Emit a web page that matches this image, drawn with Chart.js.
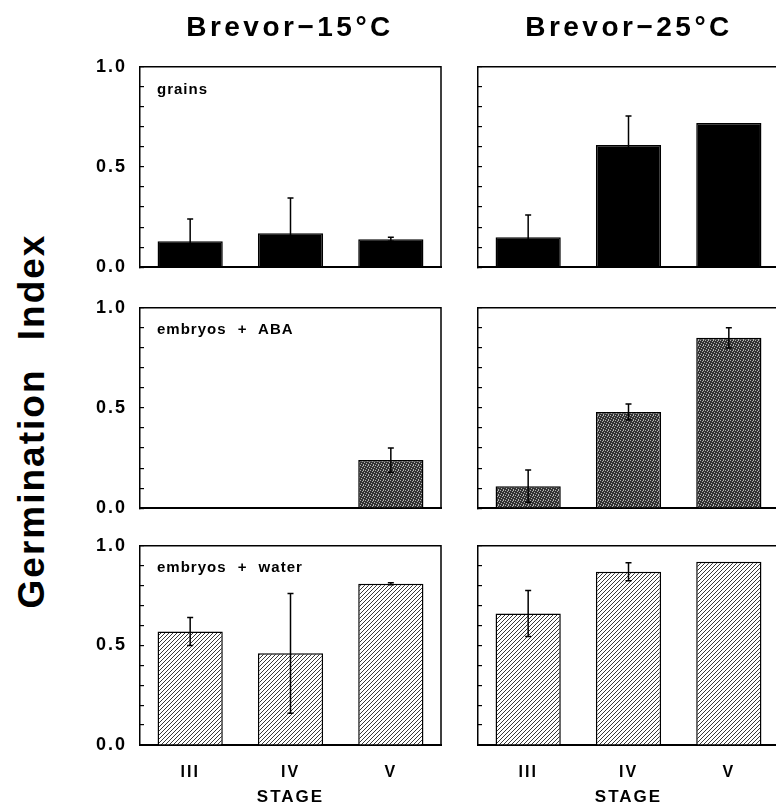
<!DOCTYPE html>
<html><head><meta charset="utf-8">
<script src="https://cdn.jsdelivr.net/npm/chart.js@4/dist/chart.umd.min.js"></script>
<style>
html,body{margin:0;padding:0;background:#fff;overflow:hidden;width:776px;height:810px;position:relative;}
canvas{position:absolute;display:block;}
.t{position:absolute;font-family:"Liberation Sans",Arial,sans-serif;font-weight:bold;color:#000;white-space:nowrap;line-height:1;}
</style></head><body>
<canvas id="c00" width="366" height="256" style="left:80px;top:39px"></canvas>
<canvas id="c01" width="320" height="256" style="left:470px;top:39px"></canvas>
<canvas id="c10" width="366" height="256" style="left:80px;top:280px"></canvas>
<canvas id="c11" width="320" height="256" style="left:470px;top:280px"></canvas>
<canvas id="c20" width="366" height="292" style="left:80px;top:518px"></canvas>
<canvas id="c21" width="320" height="292" style="left:470px;top:518px"></canvas>
<div class="t" id="title0" style="left:290px;top:13px;font-size:28px;letter-spacing:3.5px;transform:translateX(-50%);"></div>
<div class="t" id="title1" style="left:629px;top:13px;font-size:28px;letter-spacing:3.5px;transform:translateX(-50%);"></div>
<div class="t" id="ytitle" style="left:31px;top:421px;font-size:37px;letter-spacing:2px;word-spacing:16px;transform:translate(-50%,-50%) rotate(-90deg);"></div>
<div class="t" id="lab0" style="left:157px;top:81px;font-size:15px;letter-spacing:1px;word-spacing:6px;"></div>
<div class="t" id="lab1" style="left:157px;top:321px;font-size:15px;letter-spacing:1px;word-spacing:6px;"></div>
<div class="t" id="lab2" style="left:157px;top:559px;font-size:15px;letter-spacing:1px;word-spacing:6px;"></div>
<script>
// ---- data ----
const stages = ['III', 'IV', 'V'];
const columnTitles = ['Brevor\u221215\u00B0C', 'Brevor\u221225\u00B0C'];
const rowLabels = ['grains', 'embryos + ABA', 'embryos + water'];
const yAxisTitle = 'Germination Index';
const xAxisTitle = 'STAGE';
const yTickValues = [0, 0.5, 1.0];
const yTickLabels = ['0.0', '0.5', '1.0'];

const grains15 = [0.13, 0.17, 0.14];
const grains15Err = [0.11, 0.175, 0.01];
const grains25 = [0.15, 0.61, 0.72];
const grains25Err = [0.11, 0.145, 0];
const aba15 = [0, 0, 0.24];
const aba15Err = [0, 0, 0.06];
const aba25 = [0.11, 0.48, 0.85];
const aba25Err = [0.08, 0.04, 0.05];
const water15 = [0.57, 0.46, 0.81];
const water15Err = [0.07, 0.30, 0.005];
const water25 = [0.66, 0.87, 0.92];
const water25Err = [0.115, 0.045, 0];

document.getElementById('title0').textContent = columnTitles[0];
document.getElementById('title1').textContent = columnTitles[1];
document.getElementById('ytitle').textContent = yAxisTitle;
rowLabels.forEach((t, i) => document.getElementById('lab' + i).textContent = t);

// ---- fills ----
function stipple() {
  const c = document.createElement('canvas'); c.width = 5; c.height = 5;
  const g = c.getContext('2d');
  g.fillStyle = '#333'; g.fillRect(0, 0, 5, 5);
  g.fillStyle = '#b0b0b0';
  [[0,0],[2,1],[4,2],[1,3],[3,4],[3,0]].forEach(p => g.fillRect(p[0], p[1], 1, 1));
  return g.createPattern(c, 'repeat');
}
function hatch() {
  const c = document.createElement('canvas'); c.width = 4; c.height = 4;
  const g = c.getContext('2d');
  g.fillStyle = '#fff'; g.fillRect(0, 0, 4, 4);
  g.strokeStyle = '#222'; g.lineWidth = 0.9;
  g.beginPath();
  g.moveTo(-1, 5); g.lineTo(5, -1);
  g.moveTo(-1, 1); g.lineTo(1, -1);
  g.moveTo(3, 5); g.lineTo(5, 3);
  g.stroke();
  return g.createPattern(c, 'repeat');
}

const FONT = '"Liberation Sans", Arial, sans-serif';

const boxPlugin = {
  id: 'box',
  beforeDraw(chart) { chart.ctx.letterSpacing = '2px'; },
  afterDraw(chart) {
    const a = chart.chartArea, ctx = chart.ctx;
    ctx.save();
    ctx.strokeStyle = '#000'; ctx.lineWidth = 1.5;
    ctx.beginPath();
    ctx.moveTo(a.left, a.top); ctx.lineTo(a.right, a.top); ctx.lineTo(a.right, a.bottom);
    ctx.stroke();
    ctx.restore();
  }
};
const errPlugin = {
  id: 'err',
  afterDatasetsDraw(chart) {
    const ds = chart.data.datasets[0], meta = chart.getDatasetMeta(0), y = chart.scales.y, ctx = chart.ctx;
    ctx.save();
    ctx.strokeStyle = '#000'; ctx.lineWidth = 1.5;
    meta.data.forEach((bar, i) => {
      const v = ds.data[i], e = ds.errs[i];
      if (!e) return;
      const yt = y.getPixelForValue(v + e), yb = y.getPixelForValue(Math.max(0, v - e));
      ctx.beginPath();
      ctx.moveTo(bar.x, yt); ctx.lineTo(bar.x, yb);
      ctx.moveTo(bar.x - 3, yt); ctx.lineTo(bar.x + 3, yt);
      ctx.moveTo(bar.x - 3, yb); ctx.lineTo(bar.x + 3, yb);
      ctx.stroke();
    });
    ctx.restore();
  }
};

function panel(id, values, errs, fill, showY, showX) {
  new Chart(document.getElementById(id), {
    type: 'bar',
    data: {
      labels: stages,
      datasets: [{
        data: values, errs: errs,
        backgroundColor: fill, borderColor: '#000',
        borderWidth: c => (c.raw > 0 ? 1.5 : 0),
        barPercentage: 0.65, categoryPercentage: 1
      }]
    },
    options: {
      responsive: false, animation: false, devicePixelRatio: 1,
      layout: { padding: { top: 10, right: showY ? 5 : 11, left: 0, bottom: 0 } },
      plugins: { legend: { display: false }, tooltip: { enabled: false } },
      scales: {
        x: {
          offset: true,
          grid: { display: false, drawTicks: false },
          border: { display: true, color: '#000', width: 2 },
          ticks: { display: showX, color: '#000', padding: 18, font: { family: FONT, size: 16, weight: 'bold' } },
          title: { display: showX, text: xAxisTitle, color: '#000', padding: { top: 0, bottom: 2 }, font: { family: FONT, size: 17, weight: 'bold' } },
          afterFit: s => { s.height = showX ? 65 : 6; }
        },
        y: {
          min: 0, max: 1,
          grid: { drawOnChartArea: false, drawTicks: true, tickLength: -4, color: '#000', lineWidth: 1.2 },
          border: { display: true, color: '#000', width: 1.5 },
          ticks: {
            stepSize: 0.1, autoSkip: false, color: '#000', padding: 17,
            font: { family: FONT, size: 18, weight: 'bold' },
            callback: v => {
              if (!showY) return '';
              const k = yTickValues.findIndex(t => Math.abs(t - v) < 1e-6);
              return k >= 0 ? yTickLabels[k] : '';
            }
          },
          afterFit: s => { s.width = showY ? 60 : 8; }
        }
      }
    },
    plugins: [boxPlugin, errPlugin]
  });
}

const black = '#000';
const st = stipple();
const ht = hatch();
panel('c00', grains15, grains15Err, black, true, false);
panel('c01', grains25, grains25Err, black, false, false);
panel('c10', aba15, aba15Err, st, true, false);
panel('c11', aba25, aba25Err, st, false, false);
panel('c20', water15, water15Err, ht, true, true);
panel('c21', water25, water25Err, ht, false, true);
</script>
</body></html>
